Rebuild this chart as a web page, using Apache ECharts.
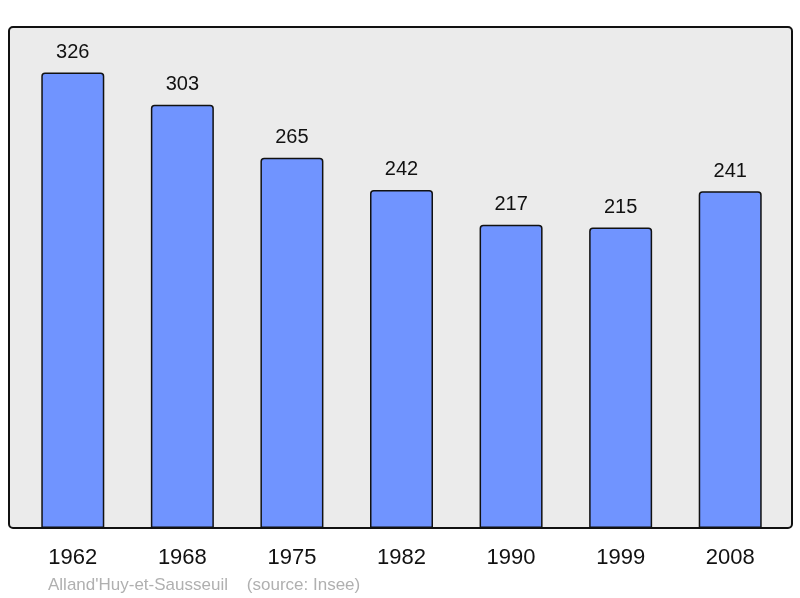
<!DOCTYPE html>
<html>
<head>
<meta charset="utf-8">
<script src="https://cdn.jsdelivr.net/npm/echarts@6/dist/echarts.min.js"></script>
<style>
  html, body { margin: 0; padding: 0; background: #fff; }
  #chart { width: 800px; height: 598px; }
</style>
</head>
<body>
<div id="chart"></div>
<script>
  const years = ['1962', '1968', '1975', '1982', '1990', '1999', '2008'];
  const population = [326, 303, 265, 242, 217, 215, 241];
  const footer = "Alland'Huy-et-Sausseuil    (source: Insee)";

  const FONT = "'Liberation Sans', Arial, sans-serif";
  const chart = echarts.init(document.getElementById('chart'), null, { renderer: 'canvas' });

  chart.setOption({
    animation: false,
    textStyle: { fontFamily: FONT },
    grid: { left: 18, right: 15, top: 27, bottom: 70 },
    graphic: [
      {
        type: 'rect',
        z: -10,
        shape: { x: 9, y: 27, width: 783, height: 501, r: 4 },
        style: { fill: '#ebebeb', stroke: '#111', lineWidth: 2 },
      },
      {
        type: 'text',
        left: 48,
        top: 577,
        style: { text: footer, fill: '#b0b0b0', font: '17px ' + FONT },
      },
    ],
    xAxis: {
      type: 'category',
      data: years,
      axisLine: { show: false },
      axisTick: { show: false },
      axisLabel: { color: '#111', fontSize: 22, margin: 19 },
    },
    yAxis: {
      type: 'value',
      min: 0,
      max: 358.6,
      show: false,
      splitLine: { show: false },
    },
    series: [{
      type: 'bar',
      data: population,
      barWidth: 63,
      itemStyle: {
        color: '#7094ff',
        borderColor: '#111',
        borderWidth: 1.5,
        borderRadius: [3, 3, 0, 0],
      },
      label: {
        show: true,
        position: 'top',
        distance: 10,
        color: '#111',
        fontSize: 20,
      },
    }],
  });
</script>
</body>
</html>
